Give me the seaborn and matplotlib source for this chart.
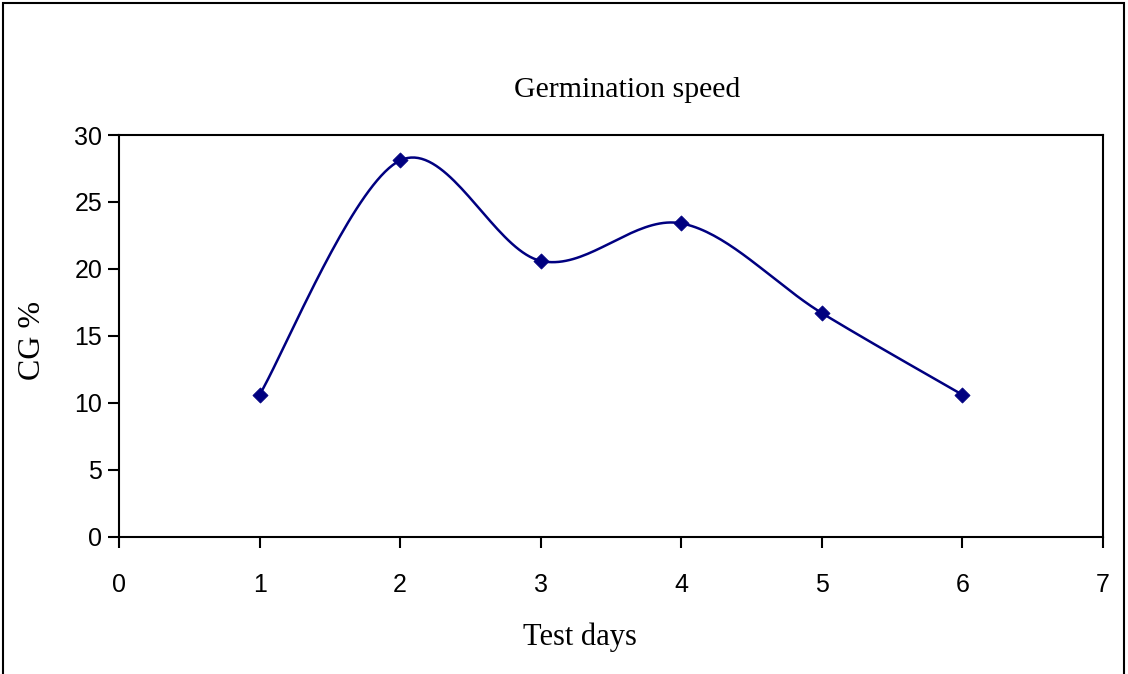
import numpy as np
import pandas as pd
import matplotlib
matplotlib.use("Agg")
import matplotlib.pyplot as plt
from matplotlib.patches import Rectangle
import seaborn as sns

days = [1, 2, 3, 4, 5, 6]
cg_percent = [10.6, 28.1, 20.6, 23.4, 16.7, 10.6]
x_ticks = [0, 1, 2, 3, 4, 5, 6, 7]
y_ticks = [0, 5, 10, 15, 20, 25, 30]

# Excel-style smoothed line (Bezier through the data points)
def excel_smooth(xs, ys, n=40):
    p = np.column_stack([xs, ys]).astype(float)
    pts = [p[0]] + list(p) + [p[-1]]
    out = []
    for i in range(1, len(pts) - 2):
        p0, p1, p2, p3 = pts[i - 1], pts[i], pts[i + 1], pts[i + 2]
        c1 = p1 + (p2 - p0) / 6.0
        c2 = p2 - (p3 - p1) / 6.0
        t = np.linspace(0, 1, n)[:, None]
        seg = ((1 - t) ** 3) * p1 + 3 * ((1 - t) ** 2) * t * c1 + 3 * (1 - t) * t ** 2 * c2 + t ** 3 * p2
        out.append(seg if i == 1 else seg[1:])
    arr = np.vstack(out)
    return arr[:, 0], arr[:, 1]

sx, sy = excel_smooth(days, cg_percent)
smooth_df = pd.DataFrame({"x": sx, "y": sy})
pts_df = pd.DataFrame({"Test days": days, "CG %": cg_percent})

sns.set_style("white")
plt.rcParams["font.family"] = ["Liberation Sans", "DejaVu Sans"]

fig = plt.figure(figsize=(11.28, 6.74), dpi=100)
ax = fig.add_axes([119 / 1128, 1 - 536.7 / 674, (1103 - 119) / 1128, (536.7 - 135) / 674])

navy = "#000080"
sns.lineplot(data=smooth_df, x="x", y="y", sort=False, estimator=None, ax=ax,
             color=navy, linewidth=1.8)
sns.scatterplot(data=pts_df, x="Test days", y="CG %", ax=ax, marker="D", s=60,
                color=navy, edgecolor=navy, linewidth=0.5, zorder=5)

ax.set_xlim(0, 7)
ax.set_ylim(0, 30)
ax.set_xticks(x_ticks)
ax.set_yticks(y_ticks)
ax.tick_params(axis="both", which="major", direction="out", length=8, width=1.5,
               color="black", labelsize=18, labelcolor="black",
               bottom=True, left=True, top=False, right=False)
ax.tick_params(axis="y", pad=4)
ax.tick_params(axis="x", pad=18)
for s in ax.spines.values():
    s.set_visible(True)
    s.set_color("black")
    s.set_linewidth(1.5)

serif = ["Liberation Serif", "DejaVu Serif"]
ax.set_xlabel("Test days", fontsize=22, family=serif, color="black")
ax.set_ylabel("CG %", fontsize=23, family=serif, color="black")
ax.xaxis.set_label_coords((580 - 119) / (1103 - 119), (536.7 - 637) / 401.7)
ax.xaxis.label.set_verticalalignment("center")
ax.yaxis.set_label_coords((33 - 119) / (1103 - 119), (536.7 - 340) / 401.7)
ax.yaxis.label.set_verticalalignment("center")

fig.text(627 / 1128, 1 - 90 / 674, "Germination speed", ha="center", va="center",
         fontsize=21.5, family=serif, color="black")

fig.patches.append(Rectangle((3 / 1128, -0.01), (1124 - 3) / 1128, 1 - 3 / 674 + 0.01,
                             transform=fig.transFigure, fill=False,
                             edgecolor="black", linewidth=1.5))

fig.savefig("out.png", dpi=100, facecolor="white")
